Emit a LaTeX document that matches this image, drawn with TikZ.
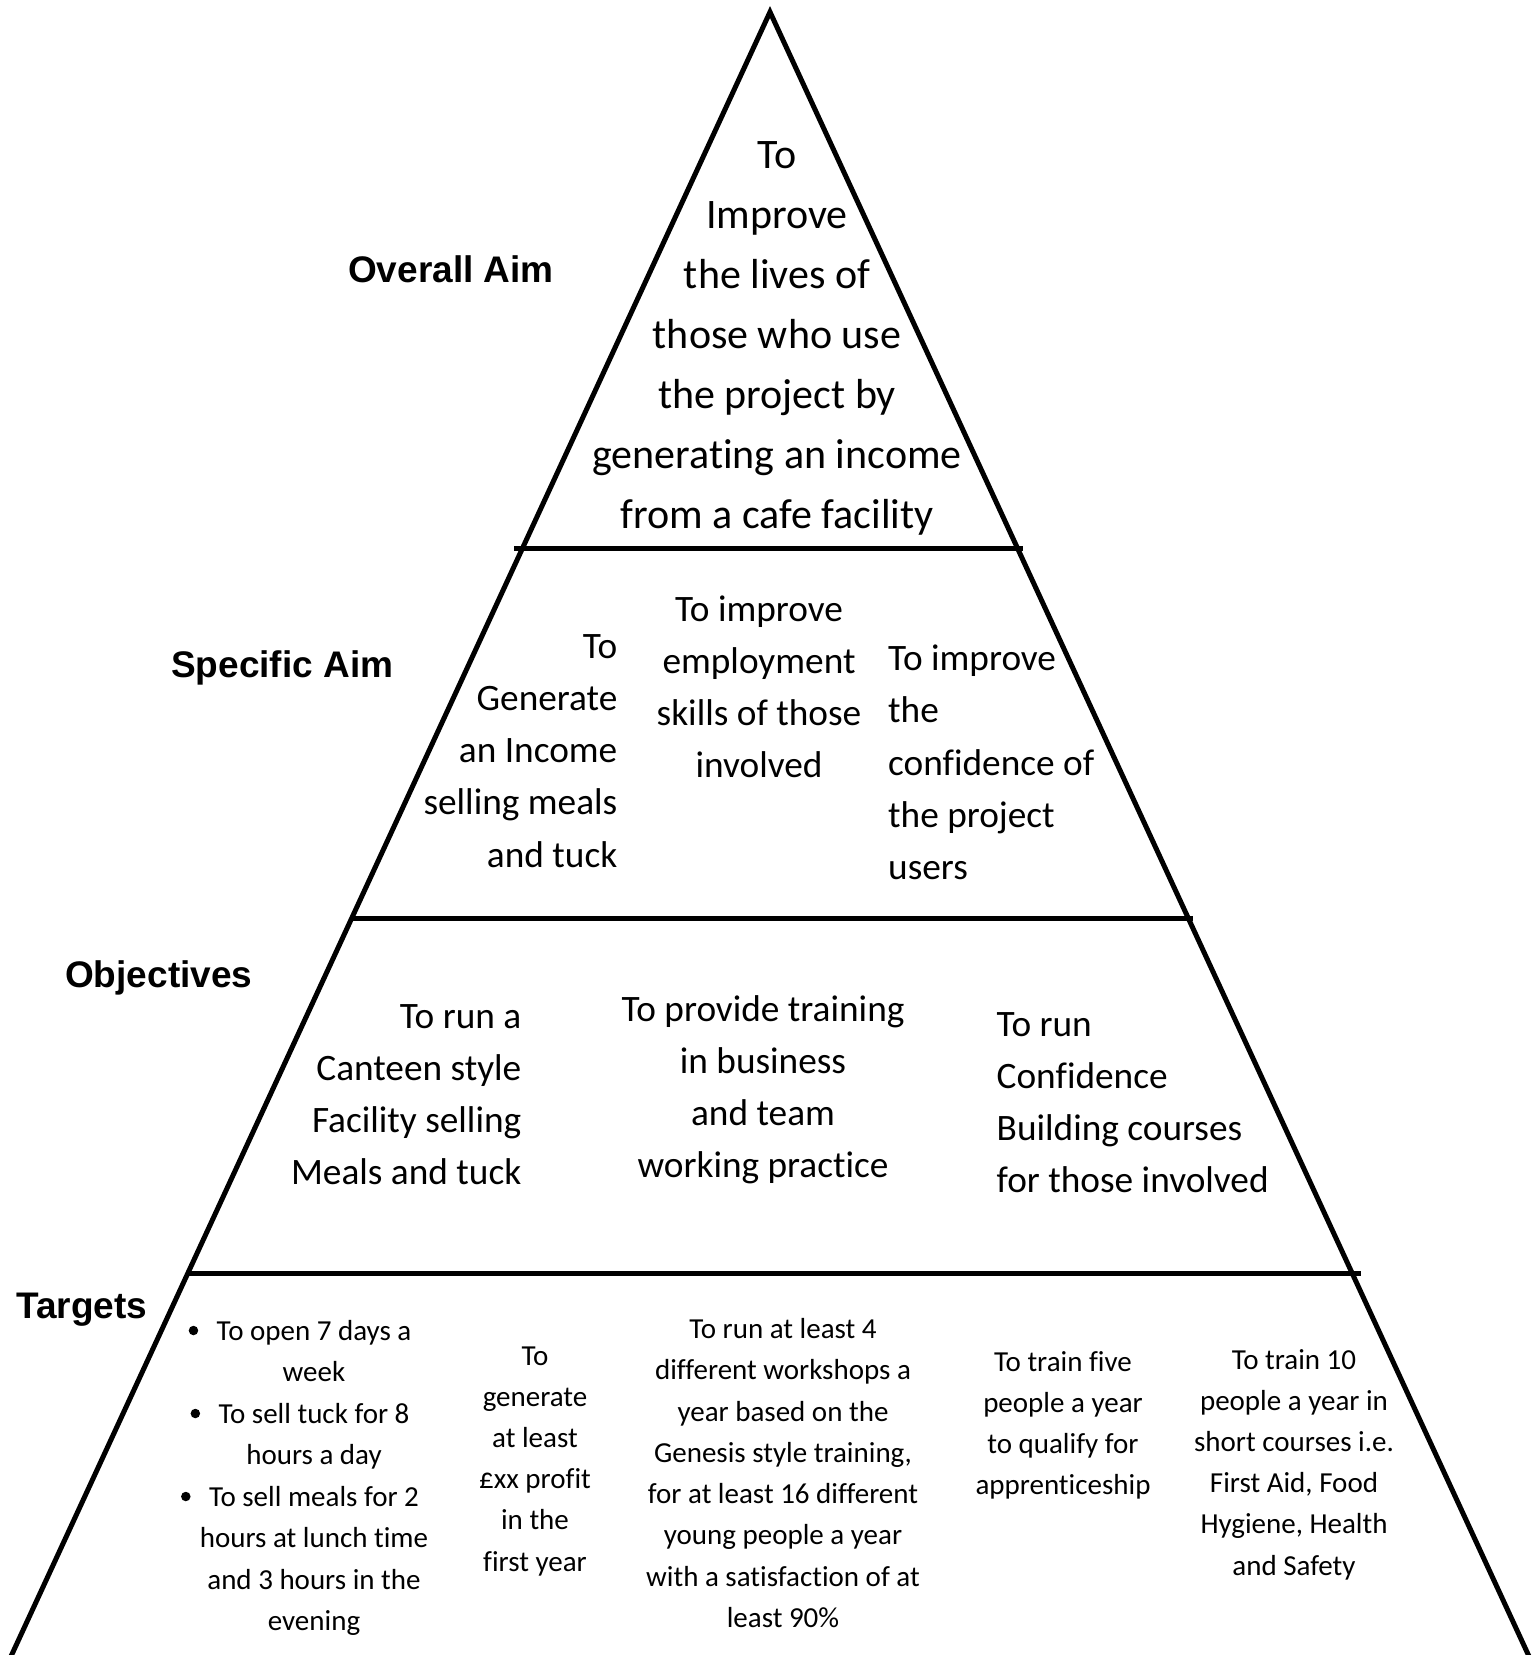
\documentclass[tikz,border=0pt]{standalone}
\usepackage{fontspec}
\setmainfont{Carlito}[Ligatures={NoCommon,NoContextual}, RawFeature={-liga;-clig;-calt;-dlig}]
\newfontfamily\labelfont{Liberation Sans}
\tikzset{
  edgeline/.style={line width=5pt, line join=miter},
  tierline/.style={line width=5pt},
  tiername/.style={font=\labelfont\bfseries\fontsize{37}{44}\selectfont, inner sep=0pt, anchor=base west},
  aimtext/.style={font=\fontsize{42}{50}\selectfont, inner sep=0pt},
  midtext/.style={font=\fontsize{37.3}{44}\selectfont, inner sep=0pt},
  smalltext/.style={font=\fontsize{29}{35}\selectfont, inner sep=0pt},
  dot/.style={circle, fill=black, inner sep=0pt, minimum size=9.5pt}
}
\begin{document}
\begin{tikzpicture}[x=1pt, y=-1pt]
  \useasboundingbox (0,0) rectangle (1538,1655);
  \fill[white] (0,0) rectangle (1538,1655);

  % pyramid outline
  \coordinate (apex) at (770,12);
  \coordinate (baseL) at (7,1665);
  \coordinate (baseR) at (1533,1665);
  \draw[edgeline] (baseL) -- (apex) -- (baseR);

  % tier dividers
  \coordinate (d1a) at (514,548);  \coordinate (d1b) at (1023,548);
  \coordinate (d2a) at (350,918);  \coordinate (d2b) at (1193,918);
  \coordinate (d3a) at (188,1273); \coordinate (d3b) at (1361,1273);
  \draw[tierline] (d1a) -- (d1b);
  \draw[tierline] (d2a) -- (d2b);
  \draw[tierline] (d3a) -- (d3b);

  % tier names
  \node[tiername] (overall) at (348,282) {Overall Aim};
  \node[tiername] (specific) at (171,677) {Specific Aim};
  \node[tiername] (objectives) at (65,987) {Objectives};
  \node[tiername] (targets) at (16,1318) {Targets};

  % overall aim
  \foreach \txt [count=\i] in {To, Improve, the lives of, those who use, the project by, generating an income, from a cafe facility}
    \node[aimtext, anchor=base] (aim-\i) at (777,{168+60*(\i-1)}) {\txt};

  % specific aims
  \foreach \txt [count=\i] in {To, Generate, an Income, selling meals, and tuck}
    \node[midtext, anchor=base east] (sa-\i) at (617.5,{658+52.3*(\i-1)}) {\txt};
  \foreach \txt [count=\i] in {To improve, employment, skills of those, involved}
    \node[midtext, anchor=base] (sb-\i) at (759,{621+52.3*(\i-1)}) {\txt};
  \foreach \txt [count=\i] in {To improve, the, confidence of, the project, users}
    \node[midtext, anchor=base west] (sc-\i) at (888,{670.5+52.3*(\i-1)}) {\txt};

  % objectives
  \foreach \txt [count=\i] in {To run a, Canteen style, Facility selling, Meals and tuck}
    \node[midtext, anchor=base east] (oa-\i) at (521.5,{1028+52.3*(\i-1)}) {\txt};
  \foreach \txt [count=\i] in {To provide training, in business, and team, working practice}
    \node[midtext, anchor=base] (ob-\i) at (763,{1021+52.3*(\i-1)}) {\txt};
  \foreach \txt [count=\i] in {To run, Confidence, Building courses, for those involved}
    \node[midtext, anchor=base west] (oc-\i) at (996.5,{1036+52.3*(\i-1)}) {\txt};

  % targets
  \foreach \txt [count=\i] in {To open 7 days a, week, To sell tuck for 8, hours a day, To sell meals for 2, hours at lunch time, and 3 hours in the, evening}
    \node[smalltext, anchor=base] (ta-\i) at (314,{1340+41.5*(\i-1)}) {\txt};
  \foreach \n in {1,3,5}
    \node[dot] (tdot-\n) at ([xshift=-23pt, yshift=9.5pt]ta-\n.base west) {};
  \foreach \txt [count=\i] in {To, generate, at least, £xx profit, in the, first year}
    \node[smalltext, anchor=base] (tb-\i) at (535,{1365+41.2*(\i-1)}) {\txt};
  \foreach \txt [count=\i] in {To run at least 4, different workshops a, year based on the, {Genesis style training,}, for at least 16 different, young people a year, with a satisfaction of at, least 90\%}
    \node[smalltext, anchor=base] (tc-\i) at (783,{1338.4+41.3*(\i-1)}) {\txt};
  \foreach \txt [count=\i] in {To train five, people a year, to qualify for, apprenticeship}
    \node[smalltext, anchor=base] (td-\i) at (1063,{1371+41.2*(\i-1)}) {\txt};
  \foreach \txt [count=\i] in {To train 10, people a year in, short courses i.e., {First Aid, Food}, {Hygiene, Health}, and Safety}
    \node[smalltext, anchor=base] (te-\i) at (1294,{1369+41.2*(\i-1)}) {\txt};
\end{tikzpicture}
\end{document}
